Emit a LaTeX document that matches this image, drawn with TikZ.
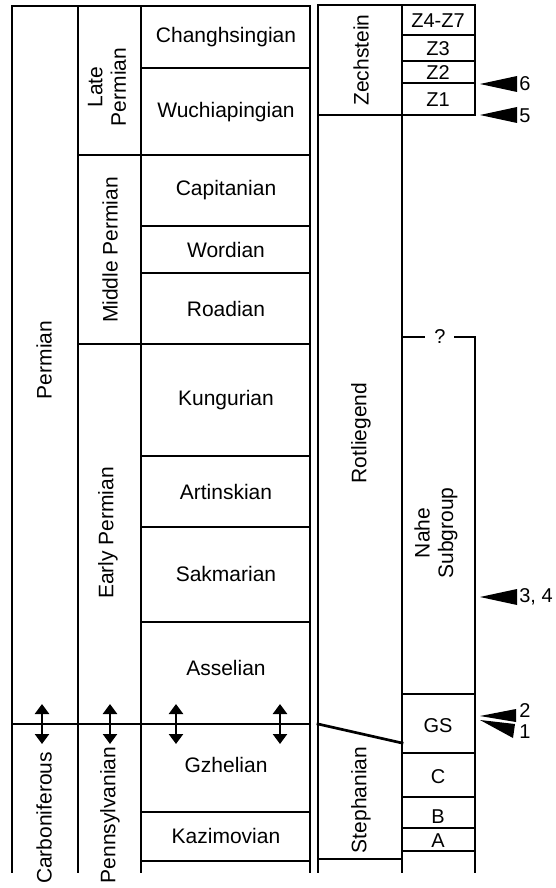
\documentclass[tikz,border=0pt]{standalone}
\usepackage{fontspec}
\setmainfont{Liberation Sans}
\usetikzlibrary{arrows.meta}
\begin{document}
\begin{tikzpicture}[x=1pt,y=-1pt,line width=2.7pt,line cap=rect,
  lbl/.style={font=\fontsize{21}{23.5}\selectfont,inner sep=0pt,align=center},
  vlbl/.style={lbl,rotate=90},
  zlbl/.style={font=\fontsize{20}{22}\selectfont,inner sep=0pt},
  nlbl/.style={font=\fontsize{20}{22}\selectfont,inner sep=0pt,anchor=west},
  dbl/.style={line cap=butt,line width=2.4pt,{Triangle[width=14pt,length=10pt]}-{Triangle[width=14pt,length=10pt]}},
  marker/.style={fill=black,draw=none}]
\useasboundingbox (0,0) rectangle (555,888);
% ---- left table ----
\draw (12,6) -- (310,6);
\draw (12,6) -- (12,872);
\draw (78,6) -- (78,872);
\draw (141,6) -- (141,872);
\draw (310,6) -- (310,872);
\draw (141,68) -- (310,68);
\draw (78,155) -- (310,155);
\draw (141,226) -- (310,226);
\draw (141,273) -- (310,273);
\draw (78,344) -- (310,344);
\draw (141,456) -- (310,456);
\draw (141,527) -- (310,527);
\draw (141,622) -- (310,622);
\draw (12,724) -- (310,724);
\draw (141,812) -- (310,812);
\draw (141,861) -- (310,861);
% ---- right table ----
\draw (318,5) -- (475,5);
\draw (318,5) -- (318,872);
\draw (402,5) -- (402,872);
\draw (475,5) -- (475,115);
\draw (318,115) -- (475,115);
\draw (402,35) -- (475,35);
\draw (402,61) -- (475,61);
\draw (402,83) -- (475,83);
\draw (402,337) -- (424,337);
\draw (455,337) -- (475,337) -- (475,872);
\draw (402,694) -- (475,694);
\draw (402,753) -- (475,753);
\draw (318,724) -- (402,743);
\draw (402,797) -- (475,797);
\draw (402,828) -- (475,828);
\draw (402,851) -- (475,851);
\draw (318,859) -- (402,859);
% ---- stage labels ----
\node[lbl] (chang) at (226,37) {Changhsingian};
\node[lbl] (wuch) at (226,112) {Wuchiapingian};
\node[lbl] (capi) at (226,190) {Capitanian};
\node[lbl] (word) at (226,250) {Wordian};
\node[lbl] (road) at (226,309) {Roadian};
\node[lbl] (kung) at (226,400) {Kungurian};
\node[lbl] (arti) at (226,492) {Artinskian};
\node[lbl] (sakm) at (226,574) {Sakmarian};
\node[lbl] (asse) at (226,668) {Asselian};
\node[lbl] (gzhe) at (226,765) {Gzhelian};
\node[lbl] (kazi) at (226,836) {Kazimovian};
% ---- vertical labels ----
\node[vlbl] (perm) at (44,360) {Permian};
\node[vlbl] (late) at (107,87) {Late\\Permian};
\node[vlbl] (midd) at (110,250) {Middle Permian};
\node[vlbl] (earl) at (108,533) {Early Permian};
\node[vlbl] (carb) at (44,818) {Carboniferous};
\node[vlbl] (penn) at (110,815) {Pennsylvanian};
\node[vlbl] (zech) at (361,60) {Zechstein};
\node[vlbl] (rotl) at (361,433) {Rotliegend};
\node[vlbl] (nahe) at (436,533) {Nahe\\Subgroup};
\node[vlbl] (steph) at (361,800) {Stephanian};
% ---- Z units etc ----
\node[zlbl] (z47) at (438,21) {Z4-Z7};
\node[zlbl] (z3) at (438,49) {Z3};
\node[zlbl] (z2) at (438,73) {Z2};
\node[zlbl] (z1) at (438,100) {Z1};
\node[zlbl] (q) at (440,337) {?};
\node[zlbl] (gs) at (438,726) {GS};
\node[zlbl] (uc) at (438,777) {C};
\node[zlbl] (ub) at (438,817) {B};
\node[zlbl] (ua) at (438,841) {A};
% ---- double arrows ----
\foreach \x/\n in {42/a,110/b,176/c,280/d}{
  \coordinate (t\n) at (\x,704);
  \coordinate (b\n) at (\x,744);
  \draw[dbl] (t\n) -- (b\n);
}
% ---- markers ----
\coordinate (m6) at (480,84);
\coordinate (m5) at (480,115);
\coordinate (m34) at (480,597);
\coordinate (m2) at (480,716);
\coordinate (m1) at (480,720);
\fill[marker] (m6) -- (517,76) -- (517,92) -- cycle;
\fill[marker] (m5) -- (517,107) -- (517,123) -- cycle;
\fill[marker] (m34) -- (517,589) -- (517,605) -- cycle;
\fill[marker] (m2) -- (516,709) -- (516,722) -- cycle;
\fill[marker] (m1) -- (515,724) -- (513,738) -- cycle;
\node[nlbl] (n6) at (518,84) {6};
\node[nlbl] (n5) at (518,116) {5};
\node[nlbl] (n34) at (518,597) {3, 4};
\node[nlbl] (n2) at (518,711) {2};
\node[nlbl] (n1) at (518,732) {1};
\end{tikzpicture}
\end{document}
